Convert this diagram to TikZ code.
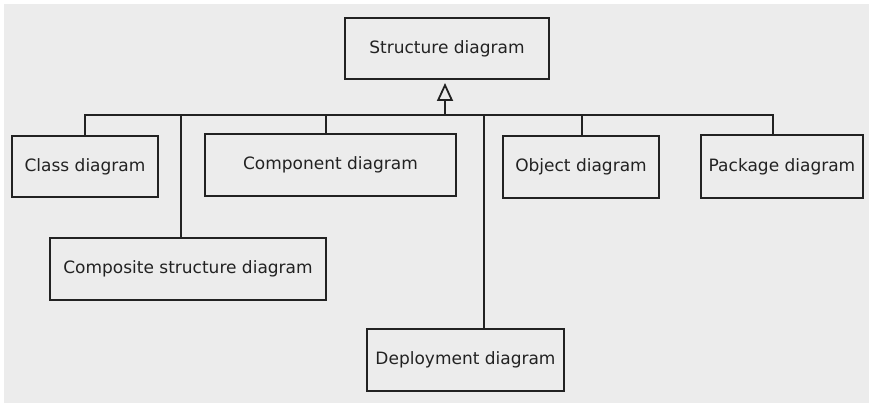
\documentclass[tikz,border=0pt]{standalone}
\usepackage{fontspec}
\setmainfont{DejaVu Sans}
\usetikzlibrary{arrows.meta,calc}
\definecolor{bg}{HTML}{ECECEC}
\definecolor{ink}{HTML}{222222}
\begin{document}
\begin{tikzpicture}[x=1pt,y=-1pt,
  box/.style={draw=ink,line width=1.4pt,fill=bg,inner sep=0pt,text=ink,
    font=\fontsize{17}{20}\selectfont},
  conn/.style={draw=ink,line width=1.4pt}]
\useasboundingbox (0,0) rectangle (869,403);
\fill[white] (0,0) rectangle (869,403);
\fill[bg] (4,4) rectangle (869,403);
\node[box,minimum width=204pt,minimum height=61pt] (struct) at (447,48.5) {Structure diagram};
\node[box,minimum width=146pt,minimum height=61pt] (class) at (85,166.5) {Class diagram};
\node[box,minimum width=251pt,minimum height=62pt] (comp) at (330.5,165) {Component diagram};
\node[box,minimum width=276pt,minimum height=62pt] (compo) at (188,269) {Composite structure diagram};
\node[box,minimum width=197pt,minimum height=62pt] (deploy) at (465.5,360) {Deployment diagram};
\node[box,minimum width=156pt,minimum height=62pt] (object) at (581,167) {Object diagram};
\node[box,minimum width=162pt,minimum height=63pt] (package) at (782,166.5) {Package diagram};
\coordinate (bus) at (0,115);
\coordinate (hub) at (445,115);
\coordinate (tip) at (445,83);
\draw[conn] (class.north) -- (class.north |- bus) -- (773,115) -- (package.north -| 773,0);
\draw[conn] (comp.north -| 326,0) -- (326,115);
\draw[conn] (compo.north -| 181,0) -- (181,115);
\draw[conn] (deploy.north -| 484,0) -- (484,115);
\draw[conn] (object.north -| 582,0) -- (582,115);
\draw[conn,-{Triangle[open,length=18pt,width=16pt,line width=1.8pt]}] (hub) -- (tip);
\end{tikzpicture}
\end{document}
